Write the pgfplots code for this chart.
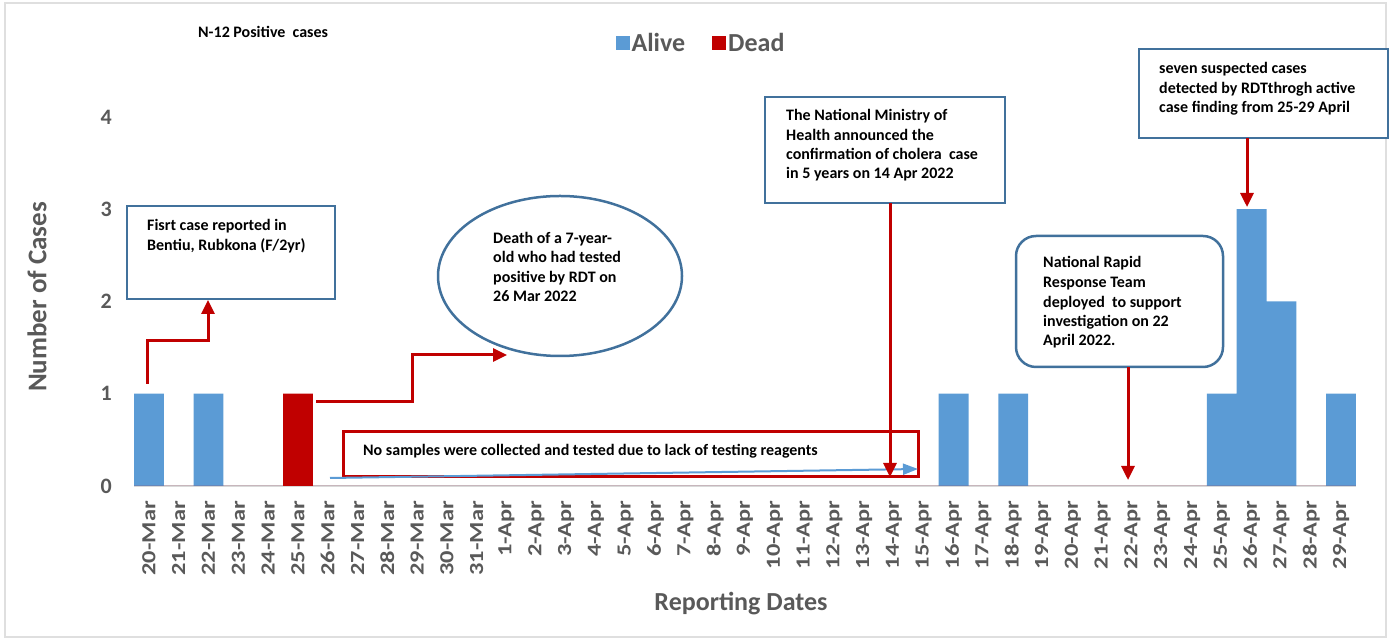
\documentclass[border=0pt]{standalone}
\usepackage{fontspec}
\setmainfont{Carlito}
\usepackage{graphicx}
\usepackage{pgfplots}
\usepackage{pgfplotstable}
\pgfplotsset{compat=1.18}
\usetikzlibrary{arrows.meta}
\definecolor{alive}{HTML}{5B9BD5}
\definecolor{dead}{HTML}{C00000}
\definecolor{txt}{HTML}{595959}
\definecolor{bx}{HTML}{41719C}
\definecolor{axl}{HTML}{D9D9D9}
\newcommand\annot{\fontsize{16}{19}\selectfont\bfseries}
\newcommand\tl[3]{\node[anchor=base west, inner sep=0pt, font=\annot, text=black] at (#1,#2) {#3};}
\newcommand\stl[1]{\scalebox{1.22}[1]{#1}}

\pgfplotstableread{
x alive dead
0 1 0
1 0 0
2 1 0
3 0 0
4 0 0
5 0 1
6 0 0
7 0 0
8 0 0
9 0 0
10 0 0
11 0 0
12 0 0
13 0 0
14 0 0
15 0 0
16 0 0
17 0 0
18 0 0
19 0 0
20 0 0
21 0 0
22 0 0
23 0 0
24 0 0
25 0 0
26 0 0
27 1 0
28 0 0
29 1 0
30 0 0
31 0 0
32 0 0
33 0 0
34 0 0
35 0 0
36 1 0
37 3 0
38 2 0
39 0 0
40 1 0
}\cases

\begin{document}
\begin{tikzpicture}[x=1pt,y=1pt]
\path[use as bounding box] (0,0) rectangle (1391,639);
\draw[gray!25, line width=1.5pt] (5,2) rectangle (1386,636);
\begin{axis}[
  at={(134pt,153pt)}, anchor=south west,
  scale only axis, width=1222pt, height=369pt,
  xmin=-0.5, xmax=40.5, ymin=0, ymax=4,
  ybar, bar width=29.8pt,
  axis x line*=bottom, axis y line*=left,
  x axis line style={draw=axl, line width=2pt, -},
  y axis line style={draw=none},
  major tick length=0pt,
  xtick={0,...,40}, ytick={0,1,2,3,4},
  xticklabels={\stl{20-Mar},\stl{21-Mar},\stl{22-Mar},\stl{23-Mar},\stl{24-Mar},\stl{25-Mar},\stl{26-Mar},\stl{27-Mar},\stl{28-Mar},\stl{29-Mar},\stl{30-Mar},\stl{31-Mar},\stl{1-Apr},\stl{2-Apr},\stl{3-Apr},\stl{4-Apr},\stl{5-Apr},\stl{6-Apr},\stl{7-Apr},\stl{8-Apr},\stl{9-Apr},\stl{10-Apr},\stl{11-Apr},\stl{12-Apr},\stl{13-Apr},\stl{14-Apr},\stl{15-Apr},\stl{16-Apr},\stl{17-Apr},\stl{18-Apr},\stl{19-Apr},\stl{20-Apr},\stl{21-Apr},\stl{22-Apr},\stl{23-Apr},\stl{24-Apr},\stl{25-Apr},\stl{26-Apr},\stl{27-Apr},\stl{28-Apr},\stl{29-Apr}},
  xticklabel style={rotate=90, anchor=east, inner sep=0pt, font=\fontsize{20}{24}\selectfont\bfseries, text=txt},
  xticklabel shift=15pt,
  yticklabel style={anchor=east, inner sep=0pt, font=\fontsize{22}{26}\selectfont\bfseries, text=txt},
  yticklabel shift=22pt,
  /pgf/number format/assume math mode=true,
  legend style={at={(0.464,1.2)}, anchor=center, draw=none, fill=none,
    legend columns=2, font=\fontsize{26}{30}\selectfont\bfseries, text=txt,
    /tikz/every even column/.append style={column sep=25pt}},
  clip=false,
]
\addplot[ybar, bar shift=0pt, fill=alive, draw=none,
  legend image code/.code={\fill[alive] (-8pt,-7pt) rectangle (6pt,7pt);}]
  table[x=x, y=alive] {\cases};
\addlegendentry{Alive}
\addplot[ybar, bar shift=0pt, fill=dead, draw=none,
  legend image code/.code={\fill[dead] (-8pt,-7pt) rectangle (6pt,7pt);}]
  table[x=x, y=dead] {\cases};
\addlegendentry{Dead}
\end{axis}

\begin{scope}[y=-1pt, yshift=639pt]
% titles and axis labels
\node[anchor=base west, inner sep=0pt, font=\fontsize{16}{19}\selectfont\bfseries, text=black] at (198,38) {N-12 Positive\ \ cases};
\node[rotate=90, font=\fontsize{27}{32}\selectfont\bfseries, text=txt] at (37,297) {Number of Cases};
\node[font=\fontsize{26}{30}\selectfont\bfseries, text=txt] at (741,604) {Reporting Dates};

% box 1
\draw[bx, line width=2.5pt, fill=white] (127,206) rectangle (335,299);
\tl{147}{231}{Fisrt case reported in}
\tl{147}{251}{Bentiu, Rubkona (F/2yr)}
\draw[dead, line width=3pt, -{Triangle[width=13pt,length=14pt]}] (147,384) -- (147,341) -- (208,341) -- (208,300);

% ellipse
\draw[bx, line width=2.5pt, fill=white] (560,276) ellipse [x radius=122, y radius=80];
\tl{493}{244}{Death of a 7-year-}
\tl{493}{263}{old who had tested}
\tl{493}{283}{positive by RDT on}
\tl{493}{302}{26 Mar 2022}
\draw[dead, line width=3pt, -{Triangle[width=13pt,length=14pt]}] (316,402) -- (412,402) -- (412,355) -- (507,355);

% red box
\draw[dead, line width=3pt, fill=white] (343,432) rectangle (918,477);
\tl{363}{456}{No samples were collected and tested due to lack of testing reagents}
\draw[alive, line width=2pt, -{Triangle[width=11pt,length=15pt]}] (330,478) -- (918,469);

% box 4
\draw[bx, line width=2.5pt, fill=white] (765,97) rectangle (1005,203);
\tl{786}{121}{The National Ministry of}
\tl{786}{141}{Health announced the}
\tl{786}{160}{confirmation of cholera\ \ case}
\tl{786}{179}{in 5 years on 14 Apr 2022}
\draw[dead, line width=3pt, -{Triangle[width=13pt,length=14pt]}] (890,203) -- (890,477);

% box 5
\draw[bx, line width=2.5pt, fill=white, rounded corners=20pt] (1016,236) rectangle (1223,367);
\tl{1043}{268}{National Rapid}
\tl{1043}{288}{Response Team}
\tl{1043}{308}{deployed\ \ to support}
\tl{1043}{327}{investigation on 22}
\tl{1043}{346}{April 2022.}
\draw[dead, line width=3pt, -{Triangle[width=13pt,length=14pt]}] (1128,367) -- (1128,480);

% box 6
\draw[bx, line width=2.5pt, fill=white] (1139,49) rectangle (1388,138);
\tl{1159}{74}{seven suspected cases}
\tl{1159}{94}{detected by RDTthrogh active}
\tl{1159}{113}{case finding from 25-29 April}
\draw[dead, line width=3pt, -{Triangle[width=13pt,length=14pt]}] (1247,138) -- (1247,207);
\end{scope}
\end{tikzpicture}
\end{document}
